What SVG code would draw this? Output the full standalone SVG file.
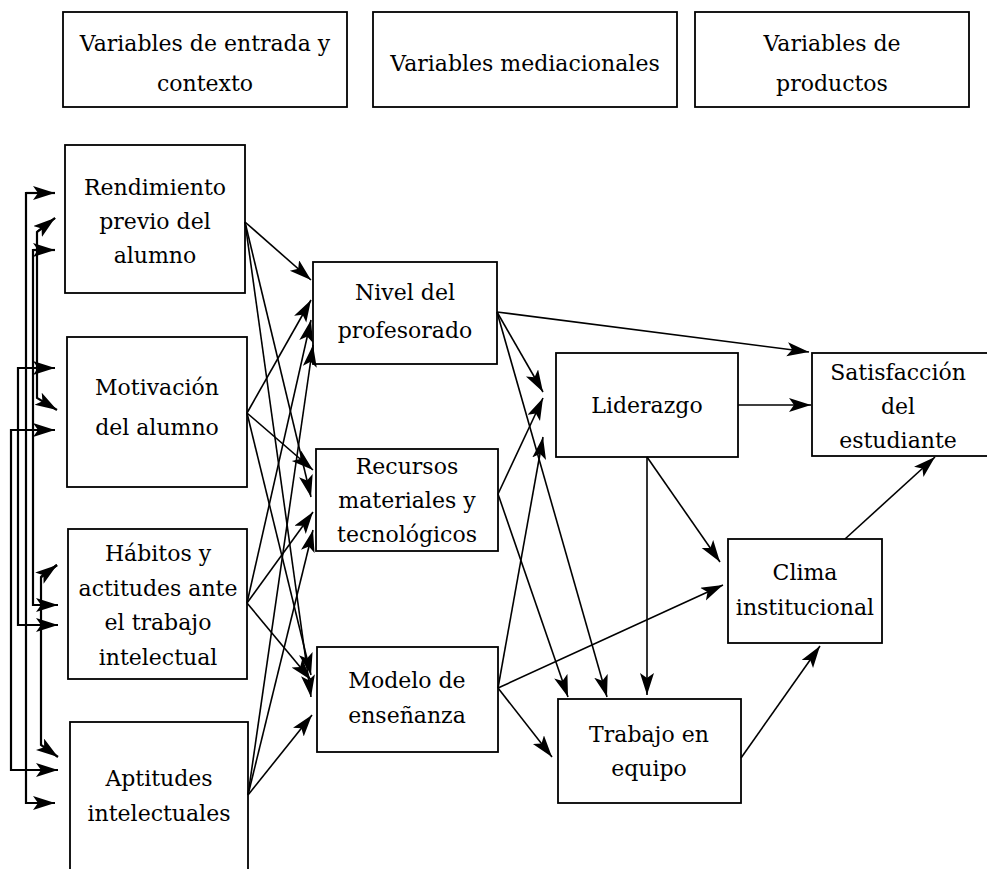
<svg xmlns="http://www.w3.org/2000/svg" width="987" height="869" viewBox="0 0 987 869">
<defs>
<marker id="ah" markerUnits="userSpaceOnUse" markerWidth="24" markerHeight="16" refX="22" refY="7" orient="auto">
<path d="M0,0 L22,7 L0,14 L5,7 z" fill="#000"/>
</marker>
<style>
.box{fill:#fff;stroke:#000;stroke-width:1.8}
text{font-family:"DejaVu Serif","Liberation Serif",serif;font-size:22px;fill:#000;text-anchor:middle}
.c line{stroke:#000;stroke-width:1.6;fill:none;marker-end:url(#ah)}
.b line,.b polyline{stroke:#000;stroke-width:2.2;fill:none}
.b .a{marker-end:url(#ah)}
</style>
</defs>
<rect width="987" height="869" fill="#fff"/>

<g id="h1"><rect class="box" x="63" y="12" width="284" height="95"/><text x="205" y="51">Variables de entrada y</text><text x="205" y="91">contexto</text></g>
<g id="h2"><rect class="box" x="373" y="12" width="304" height="95"/><text x="525" y="71">Variables mediacionales</text></g>
<g id="h3"><rect class="box" x="695" y="12" width="274" height="95"/><text x="832" y="51">Variables de</text><text x="832" y="91">productos</text></g>

<g id="rendimiento"><rect class="box" x="65" y="145" width="180" height="148"/><text x="155" y="195">Rendimiento</text><text x="155" y="229">previo del</text><text x="155" y="263">alumno</text></g>
<g id="motivacion"><rect class="box" x="67" y="337" width="180" height="150"/><text x="157" y="395">Motivación</text><text x="157" y="435">del alumno</text></g>
<g id="habitos"><rect class="box" x="68" y="529" width="179" height="150"/><text x="158" y="561">Hábitos y</text><text x="158" y="596">actitudes ante</text><text x="158" y="630">el trabajo</text><text x="158" y="665">intelectual</text></g>
<g id="aptitudes"><rect class="box" x="70" y="722" width="178" height="170"/><text x="159" y="786">Aptitudes</text><text x="159" y="821">intelectuales</text></g>

<g id="nivel"><rect class="box" x="313" y="262" width="184" height="102"/><text x="405" y="300">Nivel del</text><text x="405" y="338">profesorado</text></g>
<g id="recursos"><rect class="box" x="316" y="449" width="182" height="102"/><text x="407" y="474">Recursos</text><text x="407" y="508">materiales y</text><text x="407" y="542">tecnológicos</text></g>
<g id="modelo"><rect class="box" x="317" y="647" width="181" height="105"/><text x="407" y="688">Modelo de</text><text x="407" y="723">enseñanza</text></g>

<g id="liderazgo"><rect class="box" x="556" y="353" width="182" height="104"/><text x="647" y="413">Liderazgo</text></g>
<g id="trabajo"><rect class="box" x="558" y="699" width="183" height="104"/><text x="649" y="742">Trabajo en</text><text x="649" y="776">equipo</text></g>

<g id="satisfaccion"><rect class="box" x="812" y="353" width="176" height="103"/><text x="898" y="380">Satisfacción</text><text x="898" y="414">del</text><text x="898" y="448">estudiante</text></g>
<g id="clima"><rect class="box" x="728" y="539" width="154" height="104"/><text x="805" y="580">Clima</text><text x="805" y="615">institucional</text></g>

<g id="connectors">
<g class="c">
<line x1="245" y1="222" x2="311" y2="280"/>
<line x1="245" y1="222" x2="311" y2="497"/>
<line x1="245" y1="222" x2="311" y2="697"/>
<line x1="247" y1="413" x2="311" y2="300"/>
<line x1="247" y1="413" x2="313" y2="470"/>
<line x1="247" y1="413" x2="311" y2="675"/>
<line x1="247" y1="603" x2="311" y2="320"/>
<line x1="247" y1="603" x2="313" y2="512"/>
<line x1="247" y1="603" x2="311" y2="680"/>
<line x1="248" y1="795" x2="313" y2="345"/>
<line x1="248" y1="795" x2="313" y2="530"/>
<line x1="248" y1="795" x2="312" y2="715"/>
<line x1="497" y1="312" x2="809" y2="352"/>
<line x1="497" y1="312" x2="543" y2="392"/>
<line x1="497" y1="312" x2="607" y2="697"/>
<line x1="498" y1="494" x2="543" y2="398"/>
<line x1="498" y1="494" x2="568" y2="697"/>
<line x1="498" y1="688" x2="543" y2="437"/>
<line x1="498" y1="688" x2="723" y2="585"/>
<line x1="498" y1="688" x2="552" y2="757"/>
<line x1="738" y1="405" x2="811" y2="405"/>
<line x1="647" y1="457" x2="647" y2="695"/>
<line x1="647" y1="457" x2="720" y2="562"/>
<line x1="741" y1="758" x2="820" y2="646"/>
<line x1="845" y1="539" x2="935" y2="457"/>
</g>
<g class="b">
<polyline class="a" points="55,193 26,193 26,803 55,803"/>
<line class="a" x1="26" y1="193" x2="55" y2="193"/>
<polyline class="a" points="55,250 33,250 33,605 58,605"/>
<line class="a" x1="33" y1="250" x2="55" y2="250"/>
<polyline class="a" points="55,218 37,232 37,398 57,410"/>
<line class="a" x1="37" y1="232" x2="55" y2="218"/>
<polyline class="a" points="55,368 18,368 18,625 58,625"/>
<line class="a" x1="18" y1="368" x2="55" y2="368"/>
<polyline class="a" points="55,430 11,430 11,770 58,770"/>
<line class="a" x1="11" y1="430" x2="55" y2="430"/>
<polyline class="a" points="57,565 41,577 41,745 58,757"/>
<line class="a" x1="41" y1="577" x2="57" y2="565"/>
</g>
</g>
</svg>
